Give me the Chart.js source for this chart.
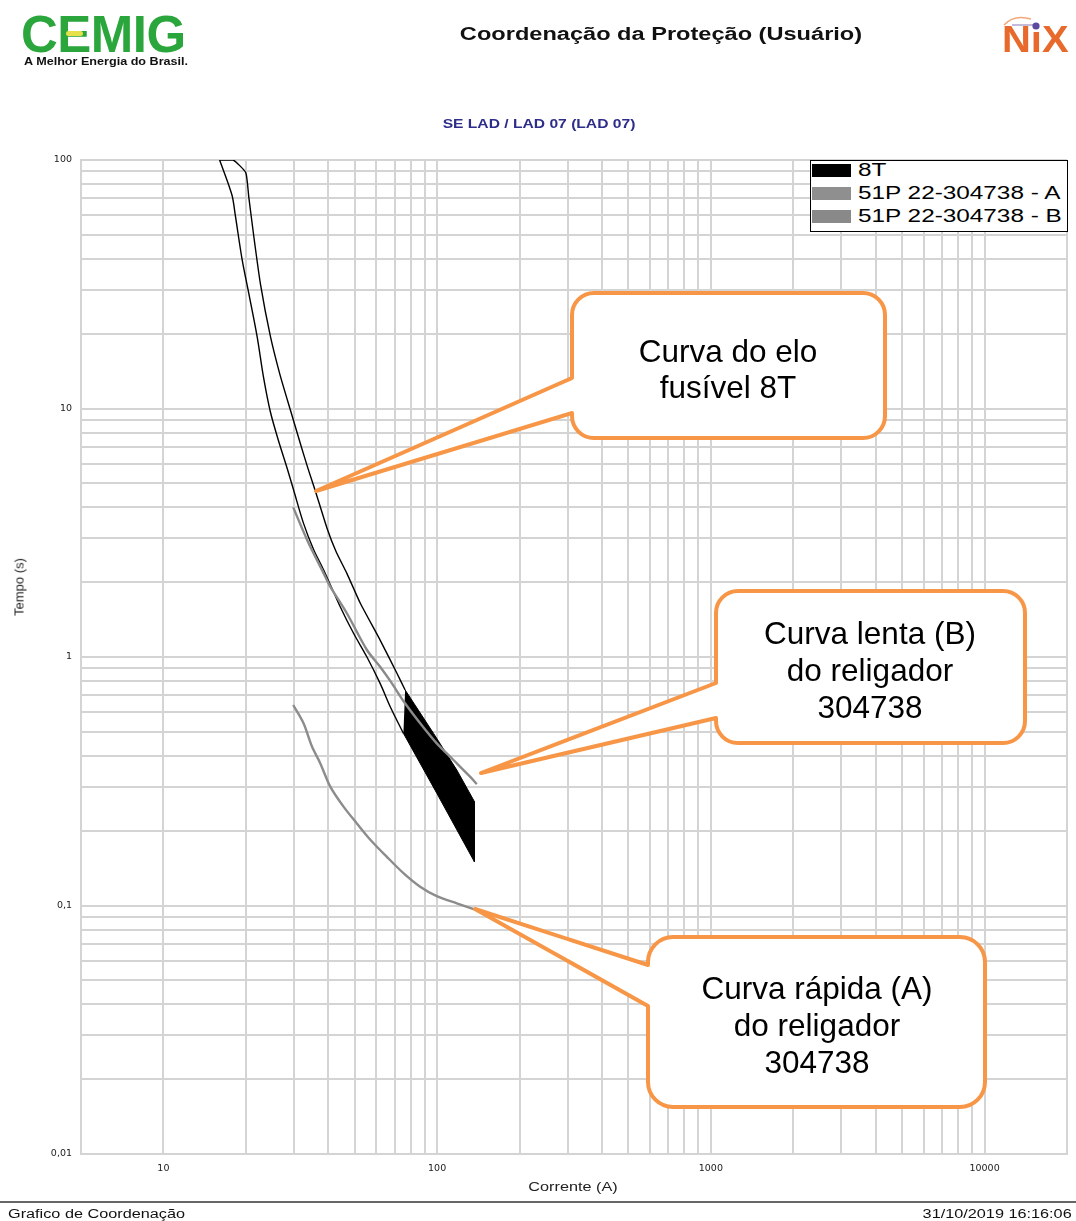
<!DOCTYPE html>
<html><head><meta charset="utf-8">
<script src="https://cdn.jsdelivr.net/npm/chart.js@4.4.1/dist/chart.umd.min.js"></script>
<style>
html,body{margin:0;padding:0;background:#fff;}
#page{position:relative;width:1076px;height:1221px;overflow:hidden;background:#fff;font-family:'Liberation Sans',Arial,sans-serif;}
#chartBox{position:absolute;left:0;top:0;width:1076px;height:1221px;}
.t{position:absolute;white-space:nowrap;line-height:1;}
.c{transform:translate(-50%,-50%) scaleX(var(--k,1));}
.l{transform-origin:left center;transform:translateY(-50%) scaleX(var(--k,1));}
.r{transform-origin:right center;transform:translateY(-50%) scaleX(var(--k,1));}
#legend{position:absolute;left:810px;top:160px;width:256px;height:70px;border:1.5px solid #000;background:#fff;}
.sw{position:absolute;left:1px;width:39px;height:13px;}
.lt{position:absolute;left:47px;font-size:17.5px;color:#000;line-height:1;white-space:nowrap;transform-origin:left center;transform:translateY(-50%) scaleX(1.39);}
svg{position:absolute;left:0;top:0;}
</style></head>
<body><div id="page">
<div id="chartBox"><canvas id="c"></canvas></div>

<!-- header -->
<div class="t l" style="left:21px;top:34px;font-size:51px;font-weight:bold;color:#2ba63c;letter-spacing:-0.5px;">CEMIG</div>
<div style="position:absolute;left:66px;top:31px;width:17px;height:5px;border-radius:3px;background:#e6e04a;"></div>
<div class="t l" style="left:24px;top:61px;font-size:10.5px;font-weight:bold;color:#111;--k:1.2;">A Melhor Energia do Brasil.</div>
<div class="t c" style="left:661px;top:34px;font-size:18px;font-weight:bold;color:#111;--k:1.31;">Coordenação da Proteção (Usuário)</div>
<div class="t l" style="left:1002px;top:39px;font-size:37px;font-weight:bold;color:#e8692c;--k:1.08;">NıX</div>
<svg width="1076" height="80" style="pointer-events:none">
  <path d="M1004,25 Q1014,14 1031,19" fill="none" stroke="#f2a878" stroke-width="1.6"/>
  <path d="M1012,25 L1033,25" fill="none" stroke="#9a8fc0" stroke-width="1.2"/>
  <circle cx="1036" cy="26" r="3.6" fill="#5b4aa0"/>
</svg>
<div class="t c" style="left:539px;top:124px;font-size:12.5px;font-weight:bold;color:#2d2d8a;--k:1.25;">SE LAD / LAD 07 (LAD 07)</div>

<!-- axis titles -->
<div class="t" style="left:19px;top:587px;font-size:13px;color:#222;transform:translate(-50%,-50%) rotate(-90deg);">Tempo (s)</div>
<div class="t c" style="left:573px;top:1187px;font-size:12.5px;color:#222;--k:1.3;">Corrente (A)</div>

<!-- legend -->
<div id="legend">
  <div class="sw" style="top:3px;background:#000;"></div><div class="lt" style="top:10px;">8T</div>
  <div class="sw" style="top:26px;background:#8f8f8f;"></div><div class="lt" style="top:33px;">51P 22-304738 - A</div>
  <div class="sw" style="top:49px;background:#898989;"></div><div class="lt" style="top:56px;">51P 22-304738 - B</div>
</div>

<!-- callouts -->
<svg width="1076" height="1221" style="pointer-events:none">
  <g fill="#fff" stroke="#f79646" stroke-width="4" stroke-linejoin="round">
    <path d="M594,293 H863 A22,22 0 0 1 885,315 V416 A22,22 0 0 1 863,438 H594 A22,22 0 0 1 572,416 V413 L316,491 L572,378 V315 A22,22 0 0 1 594,293 Z"/>
    <path d="M738,591 H1003 A22,22 0 0 1 1025,613 V721 A22,22 0 0 1 1003,743 H738 A22,22 0 0 1 716,721 V718 L481,773 L716,683 V613 A22,22 0 0 1 738,591 Z"/>
    <path d="M673,937 H960 A25,25 0 0 1 985,962 V1082 A25,25 0 0 1 960,1107 H673 A25,25 0 0 1 648,1082 V1006 L475,909 L648,965 V962 A25,25 0 0 1 673,937 Z"/>
  </g>
  <g font-family="'Liberation Sans',Arial,sans-serif" font-size="31.5" fill="#000" text-anchor="middle" dominant-baseline="central">
    <text x="728" y="351">Curva do elo</text>
    <text x="728" y="387">fusível 8T</text>
    <text x="870" y="633">Curva lenta (B)</text>
    <text x="870" y="670">do religador</text>
    <text x="870" y="707">304738</text>
    <text x="817" y="988">Curva rápida (A)</text>
    <text x="817" y="1025">do religador</text>
    <text x="817" y="1062">304738</text>
  </g>
</svg>

<!-- footer -->
<div style="position:absolute;left:0;top:1201px;width:1076px;height:2px;background:#666;"></div>
<div class="t l" style="left:8px;top:1214px;font-size:12.5px;color:#111;--k:1.3;">Grafico de Coordenação</div>
<div class="t r" style="right:4px;top:1214px;font-size:12.5px;color:#111;--k:1.3;">31/10/2019 16:16:06</div>
</div>

<script>
// ---- data (current in A, time in s) ----
const fuseMinMeltCurrent = [75.3, 67.4, 61.9, 55.4, 49.5, 44.3, 38.5, 35.4, 32.5, 29.9, 28.3, 26.35, 24.6, 23.2, 22.0, 20.5, 19.4, 18.3, 17.8, 16.05];
const fuseMinMeltTime    = [0.493, 0.631, 0.783, 1.0, 1.246, 1.59, 2.24, 2.70, 3.45, 4.70, 5.76, 7.40, 9.68, 13.4, 19.45, 29.1, 39.6, 60.1, 72.3, 100];
const fuseTotalClearCurrent = [16.05, 18.0, 20.0, 20.5, 21.4, 22.6, 24.6, 26.7, 29.1, 31.6, 33.8, 35.9, 39.6, 42.8, 46.8, 52.4, 61.9, 71.3, 76.4];
const fuseTotalClearTime    = [100, 100, 88.9, 71.2, 49.1, 31.9, 19.5, 13.6, 9.86, 7.26, 5.7, 4.66, 3.30, 2.645, 2.17, 1.645, 1.17, 0.86, 0.737];
const fuseBandCurrent = [76.4, 97, 118, 136.8, 136.8, 99.7, 75.3];
const fuseBandTime    = [0.737, 0.493, 0.351, 0.262, 0.150, 0.283, 0.493];
const recloserACurrent = [29.8, 32.5, 34.9, 37.4, 40.7, 45.5, 50.9, 57.0, 65.5, 75.3, 86.7, 99.7, 118, 136.8];
const recloserATime    = [0.641, 0.541, 0.436, 0.374, 0.301, 0.250, 0.214, 0.184, 0.157, 0.135, 0.119, 0.109, 0.102, 0.0965];
const recloserBCurrent = [29.8, 33.5, 38.5, 40.7, 46.8, 55.4, 61.9, 68, 75.3, 86.7, 99.7, 114.7, 131.9, 139.6];
const recloserBTime    = [4.0, 2.96, 2.17, 1.92, 1.50, 1.067, 0.914, 0.79, 0.665, 0.541, 0.449, 0.385, 0.330, 0.308];

// ---- axes / ticks ----
const xLabelValues = [10, 100, 1000, 10000];
const xLabels      = ['10', '100', '1000', '10000'];
const yLabelValues = [0.01, 0.1, 1, 10, 100];
const yLabels      = ['0,01', '0,1', '1', '10', '100'];
const xMin = 5, xMax = 20000, yMin = 0.01, yMax = 100;
const gridMultiples = [1, 2, 3, 4, 5, 6, 7, 8, 9];
const xGridDecades = [10, 100, 1000];
const yGridDecades = [0.01, 0.1, 1, 10];

function gridValues(decades, last, extra) {
  const out = [];
  decades.forEach(d => gridMultiples.forEach(m => out.push(Number((d * m).toPrecision(6)))));
  out.push(last);
  extra.forEach(e => out.push(e));
  return out.sort((a, b) => a - b);
}
const xGrid = gridValues(xGridDecades, 10000, [xMin, xMax]);
const yGrid = gridValues(yGridDecades, 100, []);

function labelFor(v, vals, labels) {
  for (let i = 0; i < vals.length; i++) if (Math.abs(v - vals[i]) / vals[i] < 1e-6) return labels[i];
  return '';
}
const zip = (a, b) => a.map((x, i) => ({x: x, y: b[i]}));

const gridColor = '#d4d4d4';
const tickFont = {family: "'DejaVu Sans', 'Liberation Sans', Arial", size: 9.5};
const curve = {showLine: true, pointRadius: 0, tension: 0.3, fill: false};

new Chart(document.getElementById('c'), {
  type: 'scatter',
  data: {
    datasets: [
      Object.assign({label: '51P 22-304738 - A', data: zip(recloserACurrent, recloserATime), borderColor: '#8c8c8c', borderWidth: 2.4, order: 1}, curve),
      Object.assign({label: '51P 22-304738 - B', data: zip(recloserBCurrent, recloserBTime), borderColor: '#8a8a8a', borderWidth: 2.4, order: 2}, curve),
      Object.assign({label: '8T', data: zip(fuseMinMeltCurrent, fuseMinMeltTime), borderColor: '#000', borderWidth: 1.4, order: 3}, curve),
      Object.assign({label: '8T ', data: zip(fuseTotalClearCurrent, fuseTotalClearTime), borderColor: '#000', borderWidth: 1.4, order: 3}, curve, {tension: 0.15}),
      {label: '8T band', data: zip(fuseBandCurrent, fuseBandTime), showLine: true, borderColor: '#000', borderWidth: 1, backgroundColor: '#000', pointRadius: 0, order: 4, fill: 'shape', tension: 0}
    ]
  },
  options: {
    responsive: true,
    maintainAspectRatio: false,
    animation: false,
    devicePixelRatio: 1,
    events: [],
    layout: {padding: {top: 160, right: 8, bottom: 27, left: 0}},
    plugins: {legend: {display: false}, tooltip: {enabled: false}, title: {display: false}},
    scales: {
      x: {
        type: 'logarithmic', min: xMin, max: xMax,
        afterBuildTicks: s => { s.ticks = xGrid.map(v => ({value: v})); },
        afterFit: s => { s.height = 40; },
        ticks: {autoSkip: false, maxRotation: 0, minRotation: 0, padding: 9, color: '#222', font: tickFont,
                callback: v => labelFor(v, xLabelValues, xLabels)},
        grid: {color: gridColor, lineWidth: 2, drawTicks: false},
        border: {color: gridColor, width: 2}
      },
      y: {
        type: 'logarithmic', min: yMin, max: yMax,
        afterBuildTicks: s => { s.ticks = yGrid.map(v => ({value: v})); },
        afterFit: s => { s.width = 81; },
        ticks: {autoSkip: false, padding: 9, color: '#222', font: tickFont,
                callback: v => labelFor(v, yLabelValues, yLabels)},
        grid: {color: gridColor, lineWidth: 2, drawTicks: false},
        border: {color: gridColor, width: 2}
      }
    }
  }
});
</script>
</body></html>
